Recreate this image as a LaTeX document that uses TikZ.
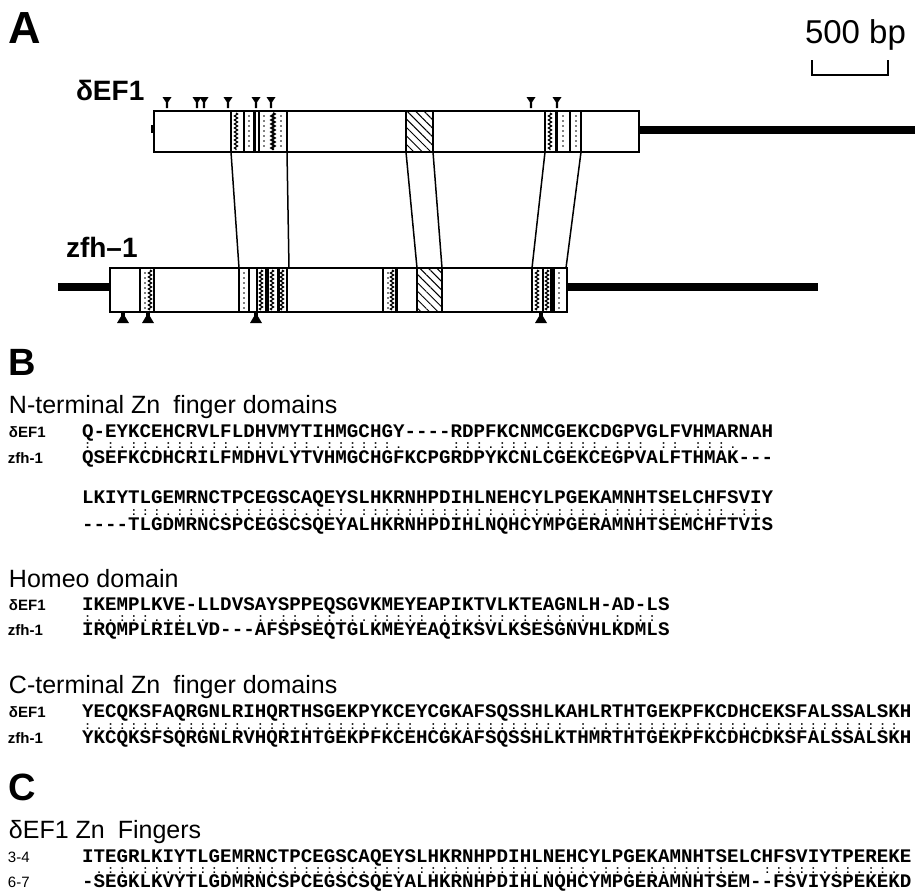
\documentclass[tikz,border=0pt]{standalone}
\usepackage{fontspec}
\setmainfont{Liberation Sans}
\setmonofont{Liberation Mono}
\usetikzlibrary{patterns.meta,decorations.pathmorphing}
\makeatletter
\newcommand\mrow[1]{\mrow@#1\relax}
\def\mrow@#1{\ifx\relax#1\else\makebox[11.52pt]{#1}\expandafter\mrow@\fi}
\makeatother
\tikzset{
  lbl/.style={inner sep=0pt, outer sep=0pt, anchor=base west},
  panel/.style={lbl, font=\fontsize{38}{40}\selectfont\bfseries},
  gene/.style={lbl, font=\fontsize{28}{30}\selectfont\bfseries},
  head/.style={lbl, font=\fontsize{25}{27}\selectfont},
  rowlbl/.style={lbl, font=\fontsize{15}{16}\selectfont\bfseries},
  numlbl/.style={lbl, font=\fontsize{15}{16}\selectfont},
  seq/.style={lbl, font=\fontsize{19.2}{20}\selectfont\ttfamily\bfseries},
  mk/.style={lbl, font=\fontsize{11}{11}\selectfont\ttfamily\bfseries},
  genebox/.style={draw, line width=1.5pt, fill=white},
  tail/.style={line width=7.5pt},
  conn/.style={line width=1.5pt},
  sepline/.style={line width=1.4pt},
  thk/.style={line width=3pt},
  wav/.style={line width=1.2pt, decorate, decoration={zigzag, segment length=4pt, amplitude=1.6pt}},
  hatch/.style={pattern={Lines[angle=-45, distance=6pt, line width=1pt]}},
}
\begin{document}
\begin{tikzpicture}[x=1pt, y=-1pt]
\useasboundingbox (0,0) rectangle (921,892);

% ---------------- Panel A ----------------
\node[lbl, font=\fontsize{45}{46}\selectfont\bfseries] (pA) at (9,43) {A};
\node[lbl, font=\fontsize{33}{34}\selectfont] (bp) at (805,43) {500 bp};
\draw[line width=2pt] (812,60) -- (812,75) -- (888,75) -- (888,60);

\node[gene] (gdef) at (76,100) {δEF1};
\node[gene] (gzfh) at (66,257) {zfh–1};

% delta EF1 gene
\draw[tail] (639,130) -- (915,130);
\fill (151,125) rectangle (155,133);
\draw[genebox] (154,111) rectangle (639,152);
\foreach \xx in {231,244,259,287,545,570,581} \draw[sepline] (\xx,111) -- (\xx,152);
\foreach \xx in {254,556} \draw[thk] (\xx,111) -- (\xx,152);
\foreach \xx in {236,550} \draw[wav] (\xx,113) -- (\xx,150);
\draw[wav, line width=2pt] (273,113) -- (273,150);
\foreach \xx in {249,264,281,563,576}
  \foreach \yy in {116,121,...,148} \fill (\xx,\yy) circle (0.9);
\fill[hatch] (406,111) rectangle (433,152);
\foreach \xx in {406,433} \draw[sepline] (\xx,111) -- (\xx,152);

% zfh-1 gene
\draw[tail] (58,287) -- (110,287);
\draw[tail] (567,287) -- (818,287);
\draw[genebox] (110,268) rectangle (567,312);
\foreach \xx in {140,154,239,249,257,287,383,532,543,554} \draw[sepline] (\xx,268) -- (\xx,312);
\foreach \xx in {278,396,551} \draw[thk] (\xx,268) -- (\xx,312);
\fill (265,268) rectangle (269,312);
\foreach \xx in {150,261,272,282,392,537,547} \draw[wav] (\xx,270) -- (\xx,310);
\foreach \xx in {145,244,388,559}
  \foreach \yy in {273,278,...,308} \fill (\xx,\yy) circle (0.9);
\fill[hatch] (417,268) rectangle (442,312);
\foreach \xx in {417,442} \draw[sepline] (\xx,268) -- (\xx,312);
\draw[line width=2pt] (567,268) -- (567,312);

% connectors between homologous regions
\coordinate (e1) at (231,152); \coordinate (z1) at (239,268);
\coordinate (e2) at (287,152); \coordinate (z2) at (289,268);
\coordinate (e3) at (406,152); \coordinate (z3) at (417,268);
\coordinate (e4) at (433,152); \coordinate (z4) at (442,268);
\coordinate (e5) at (545,152); \coordinate (z5) at (532,268);
\coordinate (e6) at (581,152); \coordinate (z6) at (566,268);
\foreach \i in {1,...,6} \draw[conn] (e\i) -- (z\i);

% intron pins
\foreach \xx in {167,197,204,228,256,271,531,557}
  \fill ({\xx-4.5},97) -- ({\xx+4.5},97) -- ({\xx+1.2},102) -- ({\xx+1.2},108) -- ({\xx-1.2},108) -- ({\xx-1.2},102) -- cycle;
\foreach \xx in {123,148,256,541}
  \fill ({\xx-1.8},311) -- ({\xx+1.8},311) -- ({\xx+1.8},316) -- ({\xx+6},323) -- ({\xx-6},323) -- ({\xx-1.8},316) -- cycle;

% ---------------- Panel B ----------------
\node[panel] (pB) at (9,375) {B};

\node[head] (hN) at (9,413) {N-terminal Zn\hspace{6pt} finger domains};
\node[rowlbl] (lN1) at (9,437) {δEF1};
\node[rowlbl] (lN2) at (8,463) {zfh-1};
\node[seq] (sN1) at (82,437) {Q-EYKCEHCRVLFLDHVMYTIHMGCHGY----RDPFKCNMCGEKCDGPVGLFVHMARNAH};
\node[mk] (mN1) at (82,448.5) {\mrow{:~:.::.:::.::.:::.::.::::::.~~~~:::.:::.:::::.:::~::~:::.}};
\node[seq] (sN2) at (82,463) {QSEFKCDHCRILFMDHVLYTVHMGCHGFKCPGRDPYKCNLCGEKCEGPVALFTHMAK---};
\node[seq] (sN3) at (82,503) {LKIYTLGEMRNCTPCEGSCAQEYSLHKRNHPDIHLNEHCYLPGEKAMNHTSELCHFSVIY};
\node[mk] (mN2) at (82,515.5) {\mrow{~~~~:::.::::.::::::.:::~::::::::::::.:::.:::.:::::::.:::.::}};
\node[seq] (sN4) at (82,530) {----TLGDMRNCSPCEGSCSQEYALHKRNHPDIHLNQHCYMPGERAMNHTSEMCHFTVIS};

\node[head] (hH) at (9,587) {Homeo domain};
\node[rowlbl] (lH1) at (9,610) {δEF1};
\node[rowlbl] (lH2) at (8,635) {zfh-1};
\node[seq] (sH1) at (82,610) {IKEMPLKVE-LLDVSAYSPPEQSGVKMEYEAPIKTVLKTEAGNLH-AD-LS};
\node[mk] (mH) at (82,621.5) {\mrow{:..:::..:~.~~~~:.::~::.:.:::::~::.:::.:.::.:~~:~::}};
\node[seq] (sH2) at (82,635) {IRQMPLRIELVD---AFSPSEQTGLKMEYEAQIKSVLKSESGNVHLKDMLS};

\node[head] (hC) at (9,693) {C-terminal Zn\hspace{6pt} finger domains};
\node[rowlbl] (lC1) at (9,717) {δEF1};
\node[rowlbl] (lC2) at (8,743) {zfh-1};
\node[seq] (sC1) at (82,717) {YECQKSFAQRGNLRIHQRTHSGEKPYKCEYCGKAFSQSSHLKAHLRTHTGEKPFKCDHCEKSFALSSALSKH};
\node[mk] (mC) at (82,729.5) {\mrow{:.:::::.::::::.:::.:.::::.:::~::::::::::::~:.:::::::::::::.::::::::::::}};
\node[seq] (sC2) at (82,743) {YKCQKSFSQRGNLRVHQRIHTGEKPFKCEHCGKAFSQSSHLKTHMRTHTGEKPFKCDHCDKSFALSSALSKH};

% ---------------- Panel C ----------------
\node[panel] (pC) at (9,800) {C};
\node[head] (hF) at (9,838) {δEF1 Zn\hspace{6pt} Fingers};
\node[numlbl] (lF1) at (8,862) {3-4};
\node[numlbl] (lF2) at (8,887) {6-7};
\node[seq] (sF1) at (82,862) {ITEGRLKIYTLGEMRNCTPCEGSCAQEYSLHKRNHPDIHLNEHCYLPGEKAMNHTSELCHFSVIYTPEREKE};
\node[mk] (mF) at (82,873.5) {\mrow{~.::.::.::::.::::.::::::.:::~:::::::::::.:::.:::.:::::::.~~:::::.::.::.}};
\node[seq] (sF2) at (82,887) {-SEGKLKVYTLGDMRNCSPCEGSCSQEYALHKRNHPDIHLNQHCYMPGERAMNHTSEM--FSVIYSPEKEKD};
\end{tikzpicture}
\end{document}
